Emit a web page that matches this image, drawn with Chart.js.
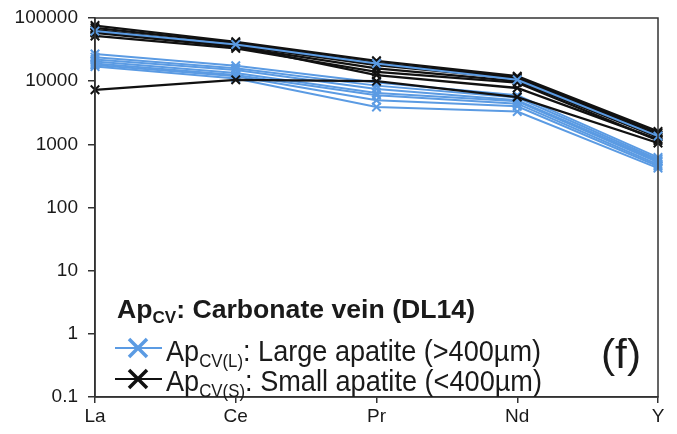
<!DOCTYPE html>
<html><head><meta charset="utf-8">
<script src="https://cdn.jsdelivr.net/npm/chart.js@4"></script>
<style>html,body{margin:0;padding:0;background:#fff}#wrap{width:677px;height:434px}</style>
</head><body><div id="wrap"><canvas id="c" width="677" height="434"></canvas></div>
<script>
const categories = ['La','Ce','Pr','Nd','Y'];
const yTickValues = [0.1,1,10,100,1000,10000,100000];
const yTickLabels = ['0.1','1','10','100','1000','10000','100000'];

// Ap_CV(L): large apatite (>400um)
const large1 = [27000,17500,9500,6000,620];
const large2 = [24000,16000,8500,5500,580];
const large3 = [22000,15000,7500,5000,550];
const large4 = [20500,13500,6500,4800,520];
const large5 = [19000,12500,6000,4400,480];
const large6 = [18000,12000,5000,4000,450];
const large7 = [17000,11000,3900,3300,420];
const large8 = [62000,38000,19000,10500,1350];
// Ap_CV(S): small apatite (<400um)
const small1 = [76000,42000,21000,12000,1600];
const small2 = [70000,40000,19500,11500,1500];
const small3 = [65000,37000,18000,11000,1400];
const small4 = [58000,35000,16000,10000,1300];
const small5 = [52000,33000,14000,9500,1150];
const small6 = [60000,36000,12500,7800,1200];
const small7 = [7300,10500,10000,5600,1050];

const largeSeries = [large1,large2,large3,large4,large5,large6,large7,large8];
const smallSeries = [small1,small2,small3,small4,small5,small6,small7];

const BLUE = '#5b9be3';
const BLACK = '#111111';
const FONT = '"Liberation Sans", Arial, sans-serif';

function ds(data, color, w){
  return {data, borderColor:color, backgroundColor:color, borderWidth:w,
    pointStyle:'crossRot', pointRadius:6, pointBorderWidth:2, pointBorderColor:color,
    tension:0, fill:false};
}
const datasets = [];
datasets.push(ds(large8, BLUE, 2));
smallSeries.forEach(s=>datasets.push(ds(s, BLACK, 2.3)));
largeSeries.slice(0,7).forEach(s=>datasets.push(ds(s, BLUE, 2)));

const legendPlugin = {
  id:'customLegend',
  afterDraw(chart){
    const ctx = chart.ctx, a = chart.chartArea;
    ctx.save();
    ctx.strokeStyle='#333'; ctx.lineWidth=1.5;
    ctx.strokeRect(a.left, a.top, a.right-a.left, a.bottom-a.top);
    ctx.textBaseline='alphabetic';
    function seg(parts, x, y, targetW){
      let w = 0;
      parts.forEach(p=>{ ctx.font=p[0]; w += ctx.measureText(p[1]).width; });
      const sx = targetW / w;
      ctx.save(); ctx.translate(x, y); ctx.scale(sx, 1);
      let cx = 0;
      ctx.fillStyle='#1a1a1a';
      parts.forEach(p=>{ ctx.font=p[0]; ctx.fillText(p[1], cx, p[2]||0); cx += ctx.measureText(p[1]).width; });
      ctx.restore();
    }
    seg([['bold 25px '+FONT,'Ap'],['bold 16px '+FONT,'CV',5],['bold 25px '+FONT,': Carbonate vein (DL14)']],117,318,358);
    function sym(color, y){
      ctx.strokeStyle=color; ctx.lineWidth=2;
      ctx.beginPath(); ctx.moveTo(115,y); ctx.lineTo(162,y); ctx.stroke();
      ctx.lineWidth=3.5; const r=9;
      ctx.beginPath(); ctx.moveTo(138-r,y-r); ctx.lineTo(138+r,y+r); ctx.moveTo(138-r,y+r); ctx.lineTo(138+r,y-r); ctx.stroke();
    }
    sym(BLUE,348); sym(BLACK,379);
    seg([['29px '+FONT,'Ap'],['18px '+FONT,'CV(L)',6],['29px '+FONT,': Large apatite (>400µm)']],166,361,375);
    seg([['29px '+FONT,'Ap'],['18px '+FONT,'CV(S)',6],['29px '+FONT,': Small apatite (<400µm)']],166,391,376);
    seg([['40px '+FONT,'(f)']],601,368,40);
    ctx.restore();
  }
};

new Chart(document.getElementById('c'), {
  type:'line',
  data:{labels:categories, datasets},
  options:{
    responsive:false, animation:false,
    layout:{padding:{top:18,right:19,left:0,bottom:0}},
    plugins:{legend:{display:false}, tooltip:{enabled:false}},
    scales:{
      x:{type:'category', offset:false,
        grid:{display:true, drawOnChartArea:false, drawTicks:true, tickLength:6, color:'#333', lineWidth:1.5},
        border:{display:true, color:'#333', width:1.5},
        ticks:{color:'#1a1a1a', font:{family:FONT, size:19}, padding:2, maxRotation:0},
        afterFit(s){ s.height = 37; }
      },
      y:{type:'logarithmic', min:0.1, max:100000,
        grid:{display:true, drawOnChartArea:false, drawTicks:true, tickLength:7, color:'#333', lineWidth:1.5},
        border:{display:true, color:'#333', width:1.5},
        afterBuildTicks(s){ s.ticks = yTickValues.map(v=>({value:v})); },
        ticks:{color:'#1a1a1a', font:{family:FONT, size:19, lineHeight:1}, padding:10,
          callback(v){ const i = yTickValues.indexOf(v); return i>=0 ? yTickLabels[i] : ''; }},
        afterFit(s){ s.width = 95; s.paddingTop = 0; s.paddingBottom = 0; }
      }
    }
  },
  plugins:[legendPlugin]
});
</script></body></html>
